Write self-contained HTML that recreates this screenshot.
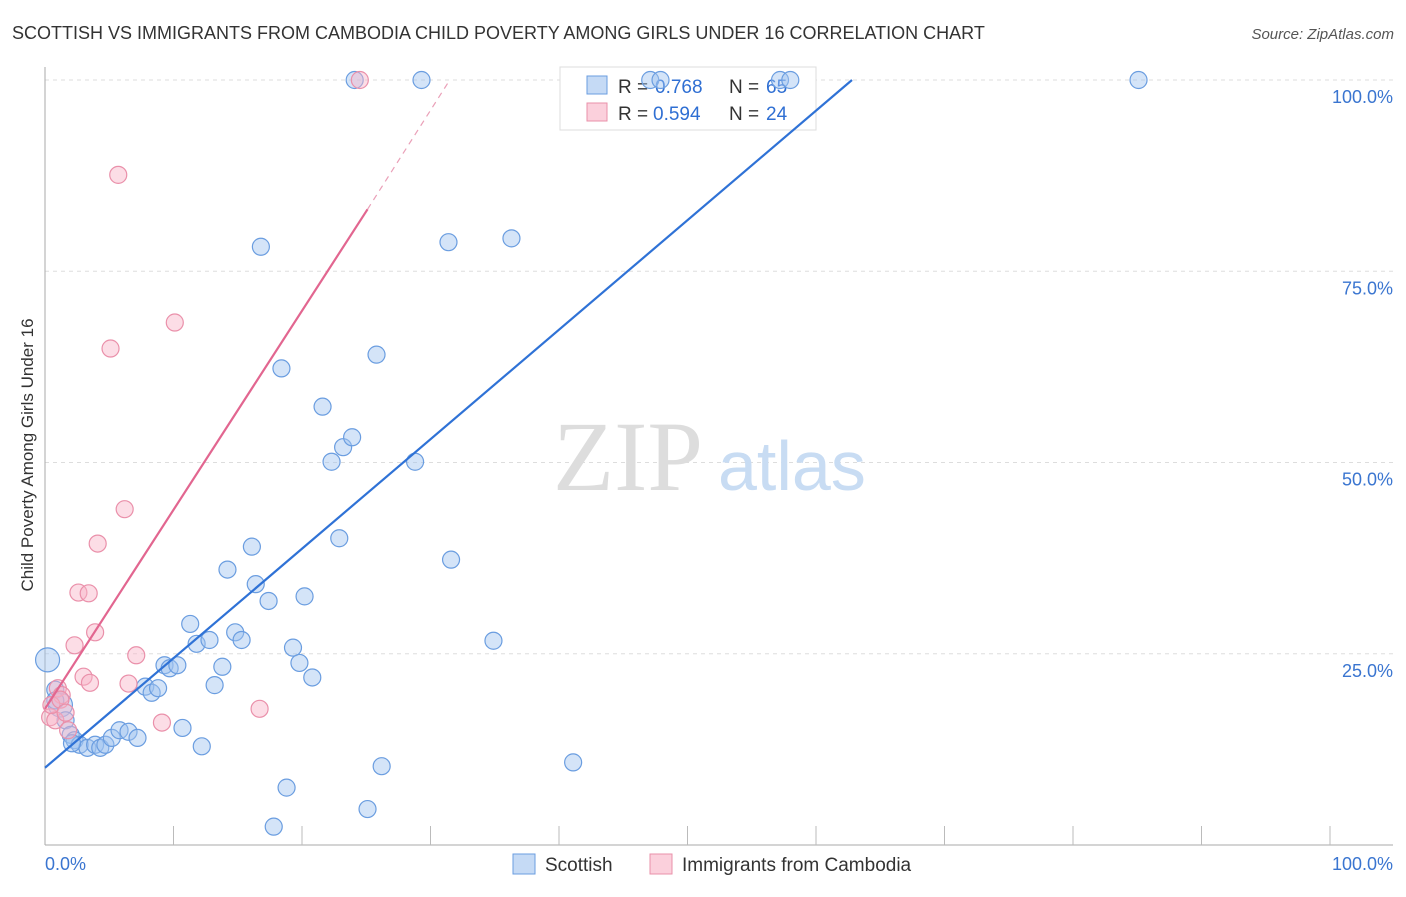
<!DOCTYPE html>
<html><head><meta charset="utf-8"><style>
body{margin:0;background:#fff;font-family:"Liberation Sans",sans-serif}
</style></head><body>
<svg width="1406" height="892" xmlns="http://www.w3.org/2000/svg" font-family="Liberation Sans, sans-serif">
<text x="12" y="39" font-size="18" fill="#333">SCOTTISH VS IMMIGRANTS FROM CAMBODIA CHILD POVERTY AMONG GIRLS UNDER 16 CORRELATION CHART</text>
<text x="1394" y="39" font-size="15" fill="#555" text-anchor="end" font-style="italic">Source: ZipAtlas.com</text>
<g id="grid"></g>
<text x="553" y="490" font-size="100" fill="#ddd" style="font-family:'Liberation Serif',serif">ZIP</text>
<text x="718" y="490" font-size="70" fill="#c8dcf3">atlas</text>
<text transform="translate(33,455) rotate(-90)" font-size="17" fill="#333" text-anchor="middle">Child Poverty Among Girls Under 16</text>
<g>
<rect x="560" y="67" width="256" height="63" fill="#fff" stroke="#ddd"/>
<rect x="587" y="76" width="20" height="18" fill="#c5daf5" stroke="#6a9de0"/>
<rect x="587" y="103" width="20" height="18" fill="#fbd0dc" stroke="#ea90aa"/>
<text x="618" y="93" font-size="19" fill="#333">R =</text>
<text x="655" y="93" font-size="19" fill="#2f6fd3">0.768</text>
<text x="729" y="93" font-size="19" fill="#333">N =</text>
<text x="766" y="93" font-size="19" fill="#2f6fd3">65</text>
<text x="618" y="120" font-size="19" fill="#333">R =</text>
<text x="653" y="120" font-size="19" fill="#2f6fd3">0.594</text>
<text x="729" y="120" font-size="19" fill="#333">N =</text>
<text x="766" y="120" font-size="19" fill="#2f6fd3">24</text>
</g>
<g id="marks"></g>
<g>
<rect x="513" y="854" width="22" height="20" fill="#c5daf5" stroke="#6a9de0"/>
<text x="545" y="871" font-size="19" fill="#333">Scottish</text>
<rect x="650" y="854" width="22" height="20" fill="#fbd0dc" stroke="#ea90aa"/>
<text x="682" y="871" font-size="19" fill="#333">Immigrants from Cambodia</text>
</g>
</svg>
<script>
const yTicks=[25,50,75,100];
const yTickLabels=["25.0%","50.0%","75.0%","100.0%"];
const xTickLabels=["0.0%","100.0%"];
const blueX=[0.2,0.8,1.2,1.6,2,2.3,2.7,3.3,3.9,4.3,4.7,5.2,5.8,6.5,7.2,7.8,8.3,8.8,9.3,9.7,10.3,10.7,11.3,11.8,12.2,12.8,13.2,13.8,14.2,14.8,15.3,16.1,16.4,16.8,17.4,17.8,18.4,18.8,19.3,19.8,20.2,20.8,21.6,22.3,22.9,23.2,23.9,24.1,25.1,25.8,26.2,28.8,29.3,31.4,31.6,34.9,36.3,41.1,47.1,47.9,57.2,58,85.1,0.8,2.1];
const blueY=[24.2,20.3,18.3,16.3,14.4,13.7,13.1,12.7,13.1,12.7,13.1,14,15,14.8,14,20.7,19.9,20.5,23.5,23.1,23.5,15.3,28.9,26.3,12.9,26.8,20.9,23.3,36,27.8,26.8,39,34.1,78.2,31.9,2.4,62.3,7.5,25.8,23.8,32.5,21.9,57.3,50.1,40.1,52,53.3,100,4.7,64.1,10.3,50.1,100,78.8,37.3,26.7,79.3,10.8,100,100,100,100,100,18.9,13.3];
const pinkX=[0.4,0.8,1,1.3,1.8,2.3,2.6,3,3.4,3.5,3.9,4.1,5.1,5.7,6.2,6.5,7.1,9.1,10.1,16.7,24.5,0.5,1.2,1.6];
const pinkY=[16.7,16.3,20.5,19.6,15,26.1,33,22,32.9,21.2,27.8,39.4,64.9,87.6,43.9,21.1,24.8,16,68.3,17.8,100,18.3,19,17.3];
const blueLine=[0,10.1,62.8,100];
const pinkLine=[0,17.8,25.1,83.1,31.5,100];
const NS="http://www.w3.org/2000/svg";
const X=v=>45+v*12.85, Y=v=>845-v*7.65;
function mk(t,a,p){const e=document.createElementNS(NS,t);for(const k in a)e.setAttribute(k,a[k]);p.appendChild(e);return e;}
const grid=document.getElementById('grid'),marks=document.getElementById('marks');
yTicks.forEach((t,i)=>{
 const l=mk('line',{x1:45,x2:1393,y1:Y(t),y2:Y(t),stroke:'#ddd','stroke-dasharray':'4,4'},grid);
 
 
 const tx=mk('text',{x:1393,y:Y(t)+23,'font-size':18,fill:'#3a75d0','text-anchor':'end'},grid);
 tx.textContent=yTickLabels[i];
 
 
});
const ax=mk('line',{x1:45,x2:1393,y1:845,y2:845,stroke:'#aaa'},grid);


const ay=mk('line',{x1:45,x2:45,y1:67,y2:845,stroke:'#aaa'},grid);


for(let i=1;i<=10;i++){const t=mk('line',{x1:X(i*10),x2:X(i*10),y1:826,y2:845,stroke:'#bbb'},grid);
 
 }
[[0,'start',45],[100,'end',1393]].forEach((d,i)=>{const t=mk('text',{x:d[2],y:870,'font-size':18,fill:'#3a75d0','text-anchor':d[1]},grid);t.textContent=xTickLabels[i];
 
 });
blueX.forEach((x,i)=>{const big=(i==0||i==2)?12:8.5;
 const c=mk('circle',{cx:X(x),cy:Y(blueY[i]),r:big,fill:'rgba(160,196,240,0.45)',stroke:'#6a9de0','stroke-width':1.2},marks);
 
 });
pinkX.forEach((x,i)=>{const c=mk('circle',{cx:X(x),cy:Y(pinkY[i]),r:8.5,fill:'rgba(248,180,200,0.45)',stroke:'#ea90aa','stroke-width':1.2},marks);
 
 });
const bl=mk('line',{x1:X(blueLine[0]),y1:Y(blueLine[1]),x2:X(blueLine[2]),y2:Y(blueLine[3]),stroke:'#2f72d6','stroke-width':2.2},marks);


const pl=mk('line',{x1:X(pinkLine[0]),y1:Y(pinkLine[1]),x2:X(pinkLine[2]),y2:Y(pinkLine[3]),stroke:'#e26690','stroke-width':2.2},marks);


const pd=mk('line',{x1:X(pinkLine[2]),y1:Y(pinkLine[3]),x2:X(pinkLine[4]),y2:Y(pinkLine[5]),stroke:'#eaa0b8','stroke-width':1.2,'stroke-dasharray':'6,5'},marks);


</script>
</body></html>
